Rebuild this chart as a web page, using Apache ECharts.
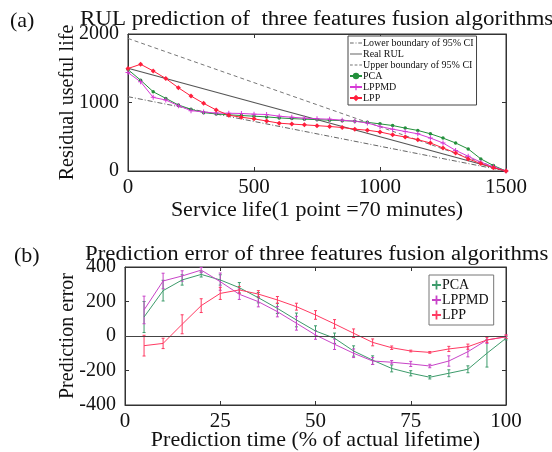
<!DOCTYPE html>
<html><head><meta charset="utf-8">
<script src="https://cdn.jsdelivr.net/npm/echarts@6/dist/echarts.min.js"></script>
<style>html,body{margin:0;padding:0;background:#fff}#c{width:552px;height:452px}</style>
</head><body><div id="c"></div><script>
// ---------- (a) RUL prediction ----------
const serviceLife = [0,50,100,150,200,250,300,350,400,450,500,550,600,650,700,750,800,850,900,950,1000,1050,1100,1150,1200,1250,1300,1350,1400,1450,1500];
const pcaRUL   = [1480,1326,1157,1060,964,901,852,833,820,810,800,790,775,765,757,750,742,735,727,710,688,664,626,592,543,481,409,322,177,80,0];
const lppmdRUL = [1437,1302,1075,1036,954,881,862,845,843,840,830,825,800,785,771,763,756,742,727,700,650,611,577,543,481,409,301,215,128,61,0];
const lppRUL   = [1496,1558,1461,1350,1215,1094,988,891,814,785,761,730,698,685,674,662,650,635,611,595,570,529,496,457,409,336,264,177,109,46,0];
const ciX      = [0,1500];
const lowerCI  = [1085,0];
const realRUL  = [1500,0];
const upperCI  = [1935,0];
// ---------- (b) Prediction error ----------
const predTime = [5,10,15,20,25,30,35,40,45,50,55,60,65,70,75,80,85,90,95,100];
const pcaErr     = [110,263,325,357,325,280,222,160,93,29,-13,-87,-140,-188,-216,-239,-216,-193,-100,-13];
const pcaErrBar  = [90,60,30,15,30,30,30,30,40,30,30,30,25,20,15,10,20,20,80,10];
const lppmdErr   = [151,319,348,382,315,242,199,141,74,6,-48,-100,-145,-152,-162,-174,-145,-91,-23,-5];
const lppmdErrBar= [80,45,30,15,50,30,30,30,40,25,30,25,20,10,15,10,30,30,20,10];
const lppErr     = [-56,-43,68,176,247,267,243,209,170,122,70,16,-37,-68,-87,-95,-75,-62,-23,-4];
const lppErrBar  = [60,30,55,40,35,20,20,20,20,25,25,25,20,10,5,5,15,15,15,10];

const FONT = 'Liberation Serif';
const GREEN = '#23903c', MAG = '#d63ad6', RED = '#ff1e3c';
const GREEN_B = '#3d9b6b', MAG_B = '#c844c8', RED_B = '#ff3a62';
const zip = (xs, ys) => xs.map((x,i)=>[x, ys[i]]);

function mainX(gi, min, max, interval, name, gap){
  return {gridIndex:gi, type:'value', min, max, interval, name, nameLocation:'middle', nameGap:gap, nameMoveOverlap:false,
    nameTextStyle:{fontFamily:FONT,fontSize:22,color:'#111'},
    axisLine:{onZero:false,lineStyle:{color:'#333'}}, axisTick:{inside:true,length:4,lineStyle:{color:'#333'}},
    axisLabel:{fontFamily:FONT,fontSize:21,color:'#111',margin:6,formatter:v=>String(v)}, splitLine:{show:false}};
}
function mainY(gi, min, max, interval, name, gap){
  return {gridIndex:gi, type:'value', min, max, interval, name, nameLocation:'middle', nameGap:gap, nameMoveOverlap:false,
    nameTextStyle:{fontFamily:FONT,fontSize:20,color:'#111'},
    axisLine:{show:true,onZero:false,lineStyle:{color:'#333'}}, axisTick:{show:true,inside:true,length:4,lineStyle:{color:'#333'}},
    axisLabel:{fontFamily:FONT,fontSize:20,color:'#111',margin:9,formatter:v=>String(v)}, splitLine:{show:false}};
}
function mirrorX(gi,min,max,interval){
  return {gridIndex:gi,type:'value',position:'top',min,max,interval,axisLine:{show:true,onZero:false,lineStyle:{color:'#333'}},
    axisTick:{inside:true,length:4,lineStyle:{color:'#333'}},axisLabel:{show:false},splitLine:{show:false}};
}
function mirrorY(gi,min,max,interval){
  return {gridIndex:gi,type:'value',position:'right',min,max,interval,axisLine:{show:true,onZero:false,lineStyle:{color:'#333'}},
    axisTick:{show:true,inside:true,length:4,lineStyle:{color:'#333'}},axisLabel:{show:false},splitLine:{show:false}};
}
function errBars(name, vals, errs, color){
  return {type:'custom', name, xAxisIndex:2, yAxisIndex:2, z:3,
    data: predTime.map((x,i)=>[x, vals[i]-errs[i], vals[i]+errs[i]]),
    encode:{x:0, y:[1,2]},
    renderItem(params, api){
      const x = api.value(0);
      const lo = api.coord([x, api.value(1)]);
      const hi = api.coord([x, api.value(2)]);
      const w = 1.5;
      const st = {stroke:color, lineWidth:1};
      return {type:'group', children:[
        {type:'line', shape:{x1:lo[0],y1:lo[1],x2:hi[0],y2:hi[1]}, style:st},
        {type:'line', shape:{x1:lo[0]-w,y1:lo[1],x2:lo[0]+w,y2:lo[1]}, style:st},
        {type:'line', shape:{x1:hi[0]-w,y1:hi[1],x2:hi[0]+w,y2:hi[1]}, style:st}
      ]};
    }};
}
const plusIcon = 'path://M4,0h2v10h-2zM0,4h10v2h-10z';
const dashIcon = 'path://M0,0h3v1h-3zM5,0h3v1h-3zM10,0h3v1h-3z';
const solidIcon = 'path://M0,0h13v1h-13z';
const dashDotIcon = 'path://M0,0h4v1h-4zM6,0h1v1h-1zM9,0h4v1h-4z';

const chart = echarts.init(document.getElementById('c'), null, {renderer:'canvas'});
chart.setOption({
  backgroundColor:'#fff',
  animation:false,
  textStyle:{fontFamily:FONT},
  graphic:[
    {type:'text', x:10, y:10, style:{text:'(a)', font:'22px "Liberation Serif"', fill:'#111'}},
    {type:'text', x:14, y:245, style:{text:'(b)', font:'22px "Liberation Serif"', fill:'#111'}},
    {type:'text', x:80, y:10, scaleX:1.15, style:{text:'RUL prediction of  three features fusion algorithms', font:'20px "Liberation Serif"', fill:'#111'}},
    {type:'text', x:85, y:245, scaleX:1.14, style:{text:'Prediction error of three features fusion algorithms', font:'20px "Liberation Serif"', fill:'#111'}}
  ],
  grid:[
    {left:128, top:34, width:378, height:137, show:true, borderColor:'#333', borderWidth:1},
    {left:125, top:267, width:381, height:138, show:true, borderColor:'#333', borderWidth:1}
  ],
  xAxis:[
    mainX(0,0,1500,500,'Service life(1 point =70 minutes)',28),
    mirrorX(0,0,1500,500),
    mainX(1,0,100,25,'Prediction time (% of actual lifetime)',24),
    mirrorX(1,0,100,25)
  ],
  yAxis:[
    mainY(0,0,2000,1000,'Residual useful life',50),
    mirrorY(0,0,2000,1000),
    mainY(1,-400,400,200,'Prediction error',47),
    mirrorY(1,-400,400,200)
  ],
  legend:[
    {orient:'vertical', left:348, top:36, padding:[2,3,2,1], itemGap:1, itemWidth:12, itemHeight:8,
     borderColor:'#444', borderWidth:1, backgroundColor:'#fff',
     textStyle:{fontFamily:FONT,fontSize:10,color:'#111',padding:[0,0,0,-4]},
     data:[{name:'Lower boundary of 95% CI',icon:dashDotIcon,itemStyle:{color:'#666'}},
           {name:'Real RUL',icon:solidIcon,itemStyle:{color:'#555'}},
           {name:'Upper boundary of 95% CI',icon:dashIcon,itemStyle:{color:'#777'}},
           'PCA ','LPPMD ','LPP ']},
    {orient:'vertical', left:429, top:275, padding:[3,5,3,3], itemGap:1, itemWidth:9, itemHeight:9,
     borderColor:'#777', borderWidth:1, backgroundColor:'#fff',
     textStyle:{fontFamily:FONT,fontSize:14,color:'#111',padding:[0,0,0,-4]},
     data:[{name:'PCA',icon:plusIcon,itemStyle:{color:GREEN_B}},
           {name:'LPPMD',icon:plusIcon,itemStyle:{color:MAG_B}},
           {name:'LPP',icon:plusIcon,itemStyle:{color:RED_B}}]}
  ],
  series:[
    {name:'Lower boundary of 95% CI', type:'line', xAxisIndex:0, yAxisIndex:0, data:zip(ciX,lowerCI),
     symbol:'none', lineStyle:{color:'#666',width:1,type:[5,2,1,2]}, itemStyle:{color:'#666'}},
    {name:'Real RUL', type:'line', xAxisIndex:0, yAxisIndex:0, data:zip(ciX,realRUL),
     symbol:'none', lineStyle:{color:'#555',width:1.2}, itemStyle:{color:'#555'}},
    {name:'Upper boundary of 95% CI', type:'line', xAxisIndex:0, yAxisIndex:0, data:zip(ciX,upperCI),
     symbol:'none', lineStyle:{color:'#777',width:1,type:[4,3]}, itemStyle:{color:'#777'}},
    {name:'PCA ', type:'line', xAxisIndex:0, yAxisIndex:0, data:zip(serviceLife,pcaRUL),
     symbol:'circle', symbolSize:3.5, lineStyle:{color:GREEN,width:1}, itemStyle:{color:GREEN}},
    {name:'LPPMD ', type:'line', xAxisIndex:0, yAxisIndex:0, data:zip(serviceLife,lppmdRUL),
     symbol:plusIcon, symbolSize:5, lineStyle:{color:MAG,width:1}, itemStyle:{color:MAG}},
    {name:'LPP ', type:'line', xAxisIndex:0, yAxisIndex:0, data:zip(serviceLife,lppRUL),
     symbol:'diamond', symbolSize:5, lineStyle:{color:RED,width:1}, itemStyle:{color:RED}},

    {name:'zero', type:'line', xAxisIndex:2, yAxisIndex:2, data:[], symbol:'none',
     markLine:{silent:true, symbol:'none', label:{show:false}, lineStyle:{color:'#444',width:1,type:'solid'},
       data:[{yAxis:0}]}},
    {name:'PCA', type:'line', xAxisIndex:2, yAxisIndex:2, data:zip(predTime,pcaErr), symbol:'none',
     lineStyle:{color:GREEN_B,width:1}, itemStyle:{color:GREEN_B}},
    {name:'LPPMD', type:'line', xAxisIndex:2, yAxisIndex:2, data:zip(predTime,lppmdErr), symbol:'none',
     lineStyle:{color:MAG_B,width:1}, itemStyle:{color:MAG_B}},
    {name:'LPP', type:'line', xAxisIndex:2, yAxisIndex:2, data:zip(predTime,lppErr), symbol:'none',
     lineStyle:{color:RED_B,width:1}, itemStyle:{color:RED_B}},
    errBars('PCA', pcaErr, pcaErrBar, GREEN_B),
    errBars('LPPMD', lppmdErr, lppmdErrBar, MAG_B),
    errBars('LPP', lppErr, lppErrBar, RED_B)
  ]
});
</script></body></html>
